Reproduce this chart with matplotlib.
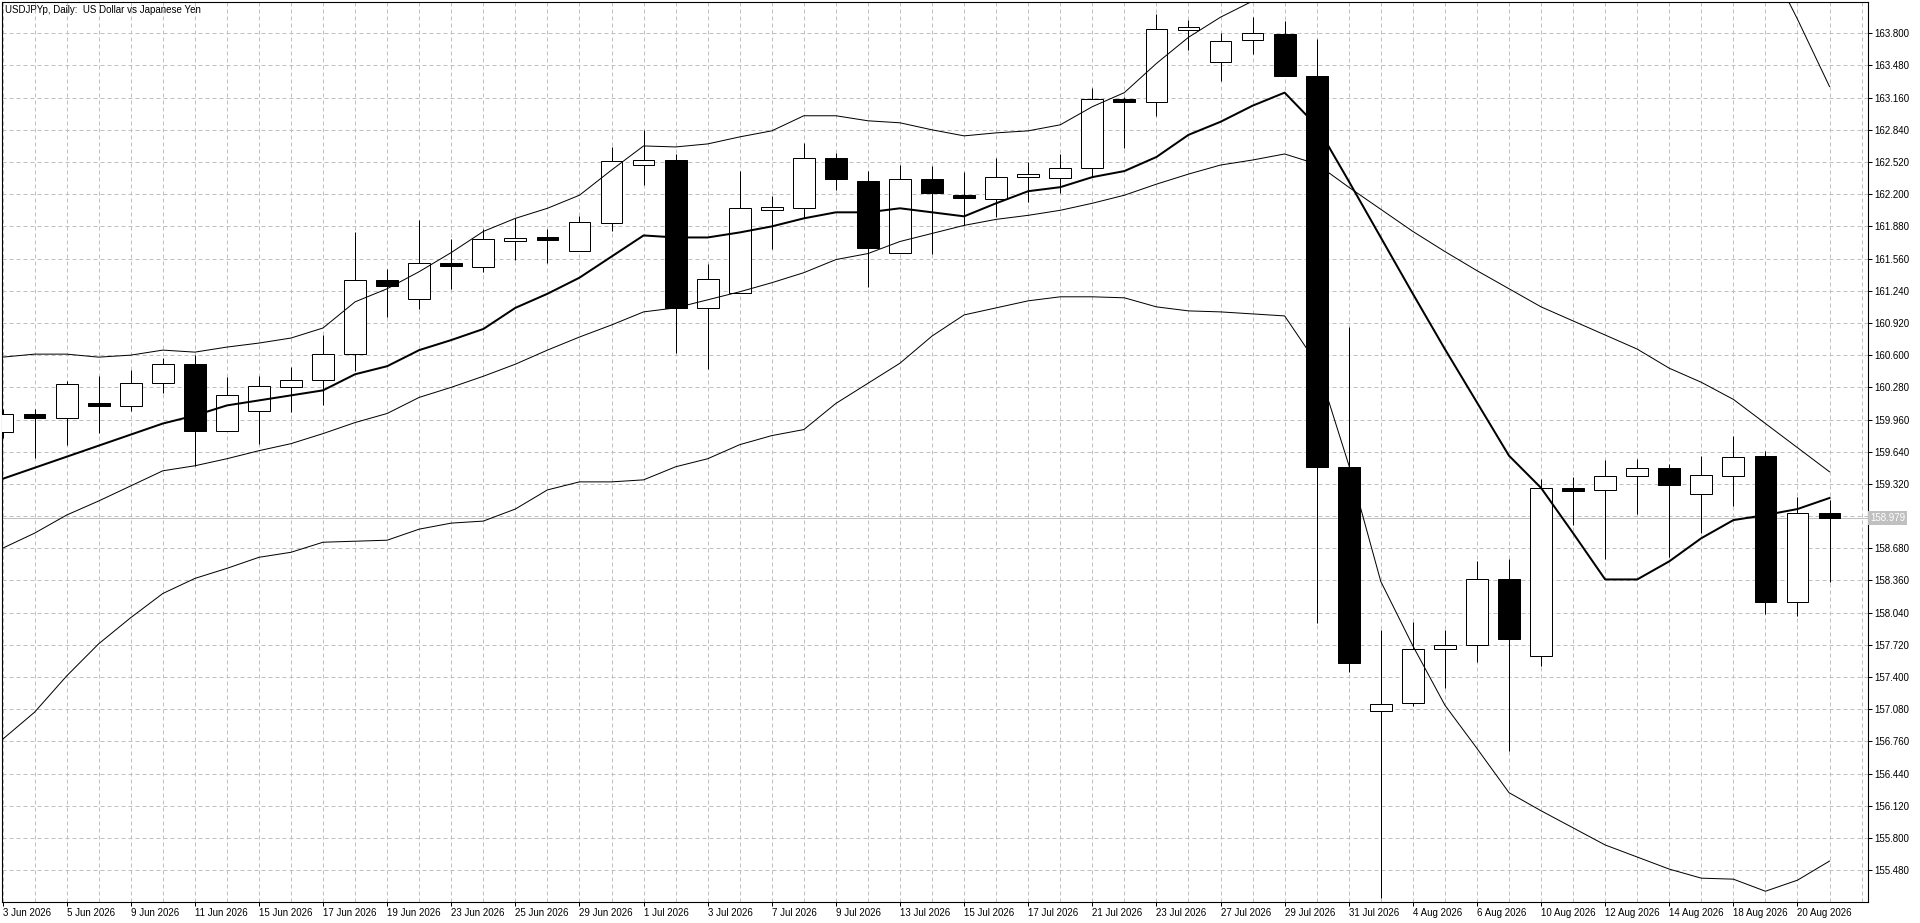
"""
USDJPYp daily candles with a fast MA and Bollinger bands (MT-style chart).
"""

import matplotlib
matplotlib.use("Agg")
import matplotlib.pyplot as plt
import matplotlib.transforms as mtransforms
from matplotlib.ticker import FixedLocator, MultipleLocator, FuncFormatter
import numpy as np
import pandas as pd

plt.rcParams["font.family"] = ["Liberation Sans", "DejaVu Sans"]

# ─────────────────────────────────────────────
# Data
# ─────────────────────────────────────────────

DATES = pd.bdate_range("2026-06-03", "2026-08-21")

OPEN = [159.84, 160.01, 159.98, 160.125, 160.09, 160.32, 160.51, 159.85, 160.04, 160.28,
        160.35, 160.61, 161.35, 161.16, 161.515, 161.48, 161.73, 161.77, 161.64, 161.91,
        162.49, 162.54, 161.07, 161.22, 162.04, 162.06, 162.56, 162.33, 161.62, 162.35,
        162.195, 162.15, 162.37, 162.36, 162.46, 163.15, 163.12, 163.83, 163.51, 163.73,
        163.79, 163.38, 159.49, 157.06, 157.14, 157.68, 157.72, 158.37, 157.61, 159.275,
        159.26, 159.40, 159.48, 159.22, 159.40, 159.60, 158.15, 159.03]
HIGH = [160.06, 160.06, 160.34, 160.39, 160.45, 160.57, 160.60, 160.38, 160.39, 160.48,
        160.80, 161.82, 161.46, 161.94, 161.75, 161.85, 161.96, 161.85, 161.98, 162.67,
        162.84, 162.60, 161.51, 162.43, 162.18, 162.71, 162.61, 162.43, 162.49, 162.48,
        162.42, 162.56, 162.52, 162.60, 163.26, 163.17, 163.99, 163.93, 163.80, 163.96,
        163.92, 163.74, 160.88, 157.87, 157.95, 157.87, 158.55, 158.57, 159.37, 159.39,
        159.56, 159.57, 159.52, 159.60, 159.80, 159.65, 159.19, 159.16]
LOW = [159.78, 159.58, 159.71, 159.83, 160.04, 160.22, 159.50, 159.85, 159.72, 160.03,
       160.10, 160.44, 160.98, 161.06, 161.26, 161.43, 161.55, 161.52, 161.64, 161.83,
       162.29, 160.62, 160.46, 161.22, 161.66, 161.96, 162.24, 161.28, 161.62, 161.61,
       161.89, 161.97, 162.12, 162.21, 162.37, 162.66, 162.98, 163.63, 163.33, 163.59,
       163.38, 157.94, 157.45, 155.20, 157.11, 157.29, 157.55, 156.66, 157.51, 158.91,
       158.57, 159.02, 158.59, 158.83, 159.10, 158.03, 158.01, 158.34]
CLOSE = [160.01, 159.98, 160.31, 160.095, 160.32, 160.51, 159.85, 160.20, 160.29, 160.35,
         160.61, 161.35, 161.29, 161.52, 161.485, 161.75, 161.76, 161.74, 161.92, 162.53,
         162.54, 161.07, 161.36, 162.06, 162.07, 162.56, 162.35, 161.67, 162.35, 162.21,
         162.165, 162.37, 162.40, 162.46, 163.15, 163.12, 163.84, 163.86, 163.72, 163.80,
         163.38, 159.49, 157.54, 157.13, 157.68, 157.72, 158.37, 157.78, 159.28, 159.245,
         159.40, 159.48, 159.31, 159.41, 159.59, 158.15, 159.03, 158.979]

MA_FAST = [159.37, 159.48, 159.59, 159.70, 159.81, 159.92, 160.00, 160.10, 160.15, 160.20,
           160.25, 160.41, 160.49, 160.65, 160.75, 160.86, 161.07, 161.21, 161.37, 161.58,
           161.79, 161.77, 161.77, 161.82, 161.88, 161.96, 162.02, 162.02, 162.06, 162.02,
           161.98, 162.11, 162.23, 162.27, 162.37, 162.43, 162.57, 162.79, 162.92, 163.08,
           163.21, 162.88, 162.33, 161.77, 161.21, 160.66, 160.13, 159.60, 159.28, 158.83,
           158.37, 158.37, 158.55, 158.78, 158.96, 159.01, 159.07, 159.18]
BB_UPPER = [160.58, 160.61, 160.61, 160.58, 160.60, 160.65, 160.63, 160.68, 160.72, 160.77,
            160.87, 161.13, 161.26, 161.43, 161.62, 161.83, 161.96, 162.06, 162.19, 162.44,
            162.68, 162.67, 162.70, 162.77, 162.83, 162.98, 162.98, 162.93, 162.91, 162.84,
            162.78, 162.81, 162.83, 162.89, 163.07, 163.21, 163.50, 163.76, 163.96, 164.12,
            164.21, 164.48, 165.04, 165.76, 165.95, 166.14, 166.19, 166.27, 166.10, 165.98,
            165.86, 165.70, 165.46, 165.26, 164.94, 164.57, 163.94, 163.27]
BB_MID = [158.68, 158.83, 159.01, 159.15, 159.30, 159.45, 159.50, 159.57, 159.65, 159.72,
          159.82, 159.93, 160.02, 160.18, 160.28, 160.39, 160.51, 160.65, 160.78, 160.90,
          161.03, 161.07, 161.15, 161.23, 161.32, 161.42, 161.55, 161.61, 161.73, 161.81,
          161.89, 161.95, 161.99, 162.04, 162.11, 162.19, 162.30, 162.40, 162.49, 162.54,
          162.60, 162.50, 162.27, 162.05, 161.83, 161.63, 161.44, 161.26, 161.08, 160.94,
          160.80, 160.66, 160.47, 160.33, 160.16, 159.92, 159.68, 159.44]
BB_LOWER = [156.78, 157.05, 157.41, 157.73, 157.99, 158.23, 158.38, 158.48, 158.59, 158.64,
            158.74, 158.75, 158.76, 158.87, 158.93, 158.95, 159.07, 159.26, 159.34, 159.34,
            159.36, 159.49, 159.57, 159.71, 159.80, 159.86, 160.12, 160.32, 160.52, 160.79,
            161.00, 161.07, 161.14, 161.18, 161.18, 161.17, 161.08, 161.04, 161.03, 161.01,
            160.99, 160.52, 159.51, 158.35, 157.71, 157.12, 156.69, 156.25, 156.07, 155.90,
            155.73, 155.61, 155.49, 155.40, 155.39, 155.27, 155.38, 155.57]

CURRENT_PRICE = 158.979
TITLE = "USDJPYp, Daily:  US Dollar vs Japanese Yen"

GRID_COLOR = "#C0C0C0"
PX = 0.72  # one pixel in points at dpi 100


def main():
    n = len(CLOSE)
    x = np.arange(n)
    o = np.array(OPEN)
    c = np.array(CLOSE)

    fig = plt.figure(figsize=(19.2, 9.23), dpi=100)
    ax = fig.add_axes([2 / 1920, 21 / 923, 1866 / 1920, 900 / 923])

    # candles
    ax.vlines(x, LOW, HIGH, color="black", linewidth=PX, zorder=2)
    colors = ["white" if cc >= oo else "black" for oo, cc in zip(o, c)]
    ax.bar(x, np.abs(c - o), width=0.68, bottom=np.minimum(o, c),
           color=colors, edgecolor="black", linewidth=PX, zorder=3)

    # indicators
    ax.plot(x, MA_FAST, color="black", linewidth=2 * PX, zorder=4)
    for band in (BB_UPPER, BB_MID, BB_LOWER):
        ax.plot(x, band, color="black", linewidth=PX, zorder=4)

    ax.axhline(CURRENT_PRICE, color=GRID_COLOR, linewidth=PX, zorder=1.5)

    # axes / limits
    ax.set_xlim(-0.016, 58.2)
    ax.set_ylim(155.163, 164.111)
    for sp in ax.spines.values():
        sp.set_linewidth(PX * 1.1)
        sp.set_color("black")

    # y axis on the right
    yticks = np.round(np.arange(155.48, 163.81, 0.32), 3)
    ax.yaxis.tick_right()
    ax.yaxis.set_major_locator(FixedLocator(yticks))
    ax.yaxis.set_major_formatter(FuncFormatter(
        lambda v, _: "" if abs(v - 159.0) < 0.01 else f"{v:.3f}"))
    ax.tick_params(axis="y", which="major", direction="out", length=3,
                   width=PX, pad=1.5, labelsize=7)

    # x axis: label every second bar, grid every bar
    major = list(range(0, n, 2))
    ax.xaxis.set_major_locator(FixedLocator(major))
    ax.set_xticklabels([f"{DATES[i].day} {DATES[i].strftime('%b')} {DATES[i].year}" for i in major])
    ax.xaxis.set_minor_locator(MultipleLocator(1))
    ax.tick_params(axis="x", which="major", direction="out", length=3,
                   width=PX, pad=1, labelsize=7)
    ax.tick_params(axis="x", which="minor", length=0)
    plt.setp(ax.get_xticklabels(), ha="left")

    ax.set_axisbelow(True)
    ax.grid(which="both", color=GRID_COLOR, linestyle=(0, (4, 3)), linewidth=PX)

    # title + current price tag
    ax.text(0.0015, 0.9911, TITLE, transform=ax.transAxes, fontsize=7,
            ha="left", va="center", zorder=6)
    trans = mtransforms.blended_transform_factory(ax.transAxes, ax.transData)
    ax.text(1.0012, CURRENT_PRICE, f"{CURRENT_PRICE:.3f}", transform=trans,
            color="white", fontsize=7, ha="left", va="center", clip_on=False,
            bbox=dict(boxstyle="square,pad=0.2", fc=GRID_COLOR, ec="none"), zorder=6)

    fig.savefig("out.png", dpi=100)
    plt.close(fig)


if __name__ == "__main__":
    main()
